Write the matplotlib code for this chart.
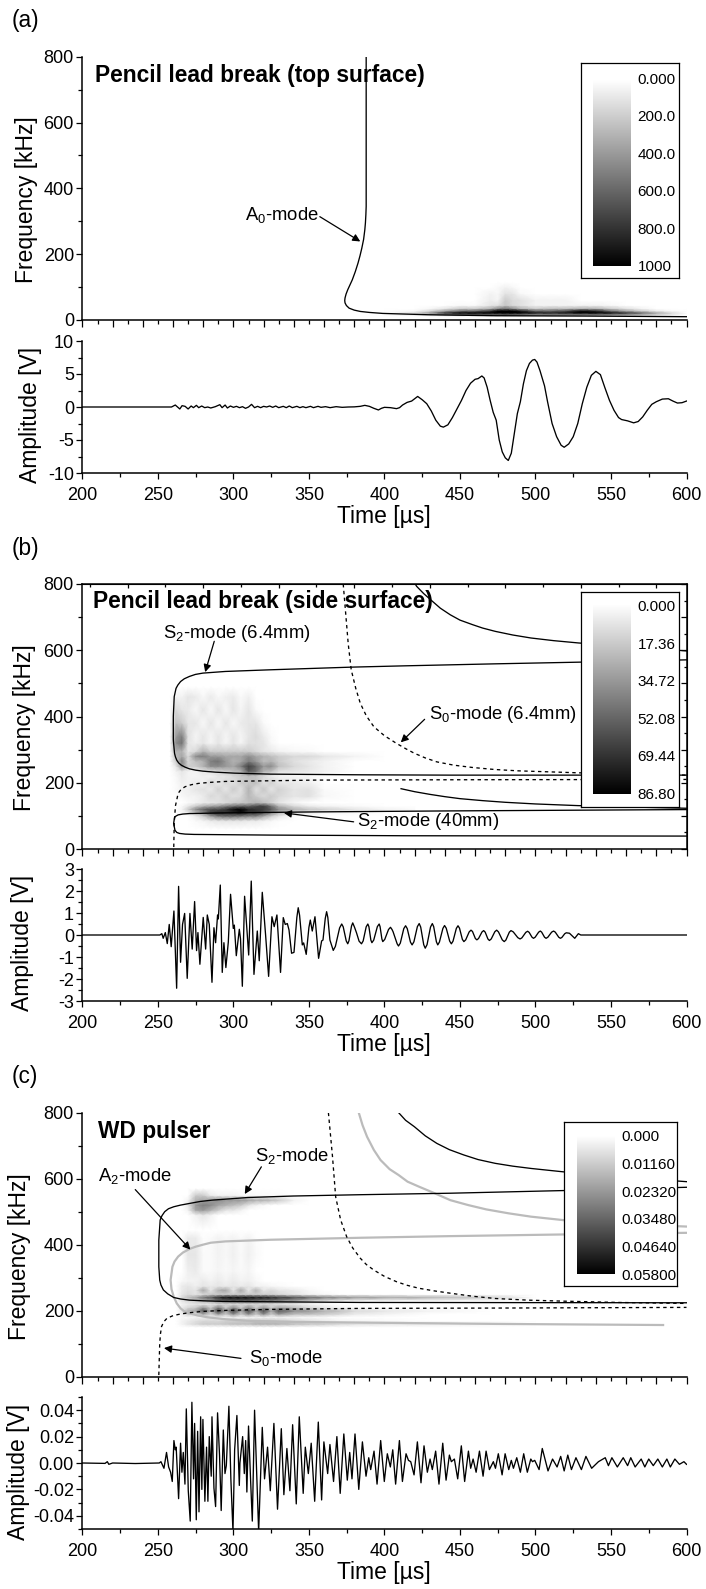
import numpy as np
import matplotlib
matplotlib.use("Agg")
import matplotlib.pyplot as plt
from matplotlib.colors import LinearSegmentedColormap
from matplotlib.ticker import MultipleLocator, FormatStrFormatter, NullFormatter

plt.rcParams.update({
    "font.family": ["Liberation Sans", "DejaVu Sans"],
    "mathtext.fontset": "custom",
    "mathtext.rm": "Liberation Sans",
    "mathtext.it": "Liberation Sans:italic",
    "mathtext.bf": "Liberation Sans:bold",
    "axes.unicode_minus": False,
})

W, H = 706, 1589
X_L, X_R = 82.4, 686.5

# ---------------------------------------------------------------- waveforms
amp_a_t = [200,259,261.5,263,264.5,266,268,270,272,273.5,275.5,277,279,281,283,285,288,291,292.5,294.5,296,298,300,302,304,306,308,310,312,314,316,318,320,322,324,326,328,330,333,335,337,339,342,344,346,348,351,353,356,358,361,364,368,372,376,380,384,387,390,393,396,398,400,404,408,410,412,415,418,422,425,428,431,434,437,439,442,445,448,451,454,457,460,462,464.5,466,468,470,472,474,476,478,480,482,484,486,488,490,492,494,496,498,499.5,501,503,506,508,511,514,517,519,522,525,528,531,534,537,540,543,546,549,552,555,557,561,565,568,571,574,577,580,584,588,591,594,597,600]
amp_a_v = [0,0,0.3,0,-0.3,0.2,0.1,-0.3,0.15,-0.1,0.25,-0.1,0.15,-0.1,0,-0.15,0.05,0.35,-0.1,0.3,-0.15,0.15,-0.05,0.1,-0.1,0.05,-0.2,0,0.4,-0.1,0.1,-0.1,0.1,0,0.15,-0.05,0.15,-0.1,0.1,-0.1,0.15,-0.1,0.1,-0.1,0.05,-0.1,0.1,-0.1,0.1,-0.05,0.05,-0.1,0.05,-0.05,0,0.02,0.1,0.25,0.1,-0.2,-0.45,-0.2,-0.05,-0.1,-0.25,-0.1,0.3,0.7,0.9,1.6,1.1,0.5,-0.6,-2,-2.9,-3.05,-2.7,-1.6,-0.3,1.0,2.5,3.6,4.2,4.3,4.7,4.4,3,1,-0.8,-2,-5,-6.8,-7.7,-8.1,-7,-4,-1,0.8,3.5,5.5,6.6,7.1,7.2,6.8,5.5,3.2,0.8,-2.5,-4.5,-5.8,-6.1,-5.6,-4.5,-2.5,0.5,3,4.8,5.4,4.9,2.9,1.0,-0.5,-1.6,-1.9,-2.1,-2.4,-2.2,-1.5,-0.5,0.4,0.8,1.2,1.25,0.9,0.6,0.65,0.9]

amp_b_t = [200,251.3,252.6,253.5,254.9,256.2,257.5,258.8,260.6,262.4,263.7,265.0,266.3,267.7,269.4,271.2,272.7,274.3,275.6,276.5,277.8,280.0,281.6,282.7,284.0,285.8,287.1,288.2,289.5,290.0,291.3,292.6,293.7,295.0,296.6,298.1,299.9,300.6,301.9,303.9,304.7,305.9,307.4,310.1,311.8,313.6,315.8,317.1,319.1,321.3,323.3,325.5,327.0,328.8,331.2,333.0,334.3,335.7,336.8,338.5,340.1,342.0,342.9,343.8,345.6,346.5,348.2,350.0,350.9,352.2,354.0,356.4,358.4,359.3,360.8,361.7,362.5,363.9,366.1,
 367.5,370.3,371.7,372.7,374.7,375.7,376.5,378.2,379,380.2,381.5,383.2,384.8,385.9,387.9,389,389.7,391,391.7,392.9,395.3,396.5,397.1,398.3,398.9,400.2,402.7,404,405,405.7,408.4,409.3,410.5,412.8,414,415.1,417.2,418.3,419.5,421.8,423,424,426,427,428.2,430.5,431.7,432.6,434.4,435.3,436.4,438.7,439.8,440.9,443.2,444.3,445.4,447.6,448.7,449.7,451.6,452.6,453.8,456.1,457.3,458.3,460.2,461.2,462.3,464.6,465.7,466.7,468.5,469.5,470.7,473.1,474.3,475.5,478,479.3,480.4,482.7,483.8,485.3,488.3,489.8,491,493.6,494.8,495.8,497.7,498.7,499.8,502.1,503.2,504.1,506,507,508.2,510.7,512,513.1,515.4,516.5,517.5,519.4,520.4,522.5,526,528.4,530,600]
amp_b_v = [0,0,0.06,-0.15,0.11,-0.39,0.48,-0.53,1.09,-2.42,2.21,-1.24,0.48,0.98,-1.97,0.98,-0.64,1.52,-0.71,0.11,-1.33,0.80,-0.64,0.91,0.48,-2.15,0.33,-0.35,0.91,0.73,2.27,-1.70,-0.35,-1.48,-0.33,1.85,0.30,0.45,-0.94,0.26,-0.18,-2.33,1.76,-0.91,2.45,-1.79,0.18,-1.17,1.94,0,-1.88,0.83,0.38,0.91,-1.70,0.79,0.48,0.52,0.23,-0.83,-0.79,0.8,1.24,0.9,-0.45,-0.36,-0.88,0.35,0.68,0.18,0.83,-1.06,-0.27,-0.23,0.75,1.06,0.8,-0.23,-0.70,
 -.52,.32,.5,.37,-.27,-.4,-.26,.41,.55,.35,.1,-.28,-.4,-.27,.37,.5,.38,-.23,-.35,-.23,.38,.5,.38,-.18,-.3,-.2,.25,.35,.25,.15,-.4,-.5,-.37,.29,.42,.29,-.32,-.45,-.31,.38,.52,.36,-.44,-.6,-.44,.36,.52,.38,-.31,-.45,-.32,.3,.43,.31,-.28,-.4,-.28,.3,.42,.31,-.2,-.3,-.22,.14,.22,.16,-.16,-.22,-.16,.14,.2,.13,-.18,-.25,-.18,.15,.22,.14,-.22,-.3,-.23,.13,.2,.14,-.12,-.18,-.13,.12,.17,.12,-.1,-.15,-.1,.13,.18,.13,-.1,-.15,-.1,.13,.18,.13,-.1,-.15,-.11,.06,.1,.08,-.15,.06,0,0]

amp_c_t = [200,215,216.5,217.5,220,235,250.9,252.0,254.0,255.7,257.1,258.4,259.5,260.6,261.5,262.1,263.7,265.0,265.9,266.8,267.9,268.8,270.1,271.4,272.5,273.6,274.3,275.4,276.3,277.2,278.3,279.1,279.8,281.1,282.2,283.1,284.0,285.3,285.8,287.1,288.2,289.5,290.8,291.9,293.3,294.4,295.3,297.0,298.3,299.7,300.8,302.3,303.9,304.3,306.1,307.2,308.1,308.9,310.0,311.4,312.5,314.0,316.7,319.1,320.6,322.6,324.4,326.8,329.2,331.7,333.4,335.4,337.4,339.2,341.6,343.6,346.2,347.6,349.6,351.5,353.8,356.2,358.4,359.9,362.4,363.9,366.3,368.5,370.7,373.1,375.4,377,378.5,380.5,383,385.4,387.8,389.6,390.9,393.1,395.1,397.5,399.9,401.9,403.9,405.5,407.4,409.9,411.9,414.3,415.9,417.4,419.6,421.8,424.2,426.2,428.4,430.2,431.7,433.9,436.1,438.6,440.8,443,444.3,446.3,448.5,450.9,453.1,455.6,457.1,458.7,460.7,462.9,465.3,467.3,469.5,472.1,473.5,475.4,477.9,479.9,482.3,484,485.4,487.6,490,492.2,494.6,496.9,498,499.5,502.4,504.5,508.3,511.3,514.3,516.7,519,521.4,523.8,526.8,530.4,533.4,537.2,541.7,546.2,548.3,550.6,554.2,558.1,561,563.1,566,570,572.4,575,578,581,584,587,589.3,592.3,595.3,598.3,600]
amp_c_v = [0,-0.0003,0.001,-0.001,0,-0.0004,0,0.001,-0.004,0.008,-0.003,-0.007,-0.014,0.017,0.010,0.012,-0.027,0.015,-0.007,0.008,-0.016,0.041,-0.021,-0.044,0.046,-0.012,0.030,-0.043,0.024,-0.037,0.035,-0.020,0.033,-0.029,0.012,-0.029,0.020,-0.010,0.035,-0.019,-0.033,0.038,0.006,-0.036,0.025,-0.008,-0.002,0.043,-0.012,-0.052,0.010,0.036,-0.017,0,0.020,-0.008,0.017,-0.022,0.028,-0.014,-0.044,0.040,-0.052,0.027,-0.012,0.012,-0.021,0.030,-0.035,0.026,-0.024,0.011,-0.021,0.029,-0.031,0.035,-0.023,0.012,-0.008,0.015,-0.029,0.031,-0.028,0.016,-0.008,0.014,-0.014,0.020,-0.023,0.022,-0.013,0.008,-0.012,0.022,-0.020,0.016,-0.010,0.004,-0.005,0.009,-0.016,0.017,-0.014,0.007,-0.003,0.010,-0.016,0.017,-0.014,0.007,0.002,0.001,-0.009,0.016,-0.015,0.013,-0.007,0.003,-0.005,0.009,-0.016,0.015,-0.013,0.006,0.001,0.003,-0.012,0.013,-0.014,0.009,-0.004,0.003,-0.007,0.009,-0.010,0.009,-0.005,0.001,-0.004,0.007,-0.009,0.007,-0.005,0.002,-0.004,0.004,-0.007,0.007,-0.007,0.003,0.001,0.002,-0.005,0.011,-0.006,0.003,-0.003,0.005,-0.006,0.006,-0.005,0.004,-0.005,0.005,-0.004,0.001,0.004,-0.002,0.004,-0.003,0.004,-0.002,0.004,-0.003,0.003,-0.003,0.003,-0.002,0.003,-0.003,0.003,-0.003,0.003,-0.001,0.001,-0.001]

# ---------------------------------------------------------------- mode curves
a0_t = [387.9,387.9,387.7,387.4,387,386.2,385,383.8,382.5,380.7,378.7,377,375.7,374.6,373.9,373.7,373.9,374.8,376.6,380,384,390,398.9,428.7,473,533,600]
a0_f = [800,345,320,295,274,245,218,195,173,147,122,105,92,79,67,59,52,44,36,30,26,23,20,16,13,12,10]

b_s2_t = [600,528.5,473.4,413.8,378,324.5,294.7,279.8,274.8,270.9,267.5,265,263.2,262,260.8,260.2,260.2,261,261.6,262.5,263.7,265.5,268,270.9,275,279.8,288,300.7,324.5,384,443.6,600]
b_s2_f = [571,564,559,553,549,541,536,531,527,521,514,505.5,495,485,460,400,329,289,278,268,260,253,247,242,238,235,232,229,226,224,223,223]
b_s2l_t = [600,443.6,354,294.7,270.9,266.5,263.4,261.8,261,260.4,261.3,262.5,264.3,268,273.9,324.5,413.8,600]
b_s2l_f = [119,115,112,109,107,105.5,103,99,95,77,56.5,50,47,45,44,42,40,39]
b_s0_t = [372.7,374.5,376,378,381,384,388,393,400,407.9,414,419.8,427,434.7,446,458.5,473,488.3,528.5,600]
b_s0_f = [800,702,620,541,485,440,402,369,342,319,303,289,275,263,253,246,240,236,230,223]
b_s0l_t = [260.5,260.8,261.6,263.4,265.3,268,272,276.8,284,294.7,354,443.6,600]
b_s0l_f = [6,77,130,168,180,188,194,198,201,204,208,209,210]
b_top_t = [420.4,421.3,426,431.7,437,443.6,450,458.5,465,473.4,485,497,512,528.5,600]
b_top_f = [800,793,771,748,727,707,691,677,667,657,646,637,629,622,598]
b_mid_t = [411,420,430,440,450,465,480,500,528,560,600]
b_mid_f = [182,173,165,158,152,146,141,136,131,127,123]

c_s2_t = [600,518,443.6,384,339.4,309.6,285.8,278,270.9,265,260.5,257,254.5,252.7,251.5,250.6,250.6,251.2,252,253.6,256.5,260.5,265,270.9,280,294.7,384,600]
c_s2_f = [574,564,556,551.5,547.5,543,535,531,525,520,515,509,500,488,475,414,333,293,278,263,251,240,235.5,232,230,228,225,224]
c_s0_t = [250.6,251.2,251.7,252.4,254,256,260,265,271,279.8,295,324.5,384,473.4,600]
c_s0_f = [5,101,130,152,167,177,185,190,194,198,201,204,207,208,210]
c_s0u_t = [362.9,365.6,367.7,371,375,379,384,388,393,400,407.9,415,422.8,433,443.6,458,473.4,495,518,555,600]
c_s0u_f = [800,667,545,475,424,390,359,340,323,304,288,277,268,260,253,244,237,232,229,225,222]
c_top_t = [409.4,414,419.8,427,434.7,443,452.5,462,473.4,485,497.2,518,555,600]
c_top_f = [800,777,757.6,730,707,688,672,658,646.5,638,631,621,606,591]
c_a2_t = [600,518,443.6,384,324.5,294.7,285,279.8,275,270.9,266.5,263.4,261,259.6,258.4,259,260.5,262.5,265,267.5,270.9,276,282.8,295,309.6,340,384,473.4,584.5]
c_a2_f = [436,431,426,421,415,410,406,400,394,387,376,364,349,333,293,265,242,222,207,198,192,186,180,174,169.6,166,164,160,156.6]
c_a2top_t = [383,385.5,388.5,393,397.4,403.4,409.4,415.3,422.8,433.2,443.6,455.5,467.4,482.3,497,518,555,600]
c_a2top_f = [800,762,727,687,656.6,629,611,591,576,556,535,520,507,495,485,474.7,463,455]

# ---------------------------------------------------------------- spectrograms
spec_a_t = [400,420,430,440,450,460,470,475,480,485,490,500,510,520,530,540,550,560,570,580,590,600]
spec_a_f = [5,12,16,22,28,35,45,60,80,100,115]
spec_a_z = [
 [0]*22,
 [0,0,0,0.02,0.03,0.03,0.03,0.03,0.03,0.03,0.03,0.02,0.02,0.02,0.02,0.02,0.02,0.02,0.02,0.01,0,0],
 [0,.08,.15,.35,.5,.55,.55,.55,.6,.55,.5,.4,.45,.45,.45,.45,.4,.35,.25,.15,.08,0],
 [0,.15,.4,.8,1,1,1,1,1,1,1,.9,.85,.9,1,1,.95,.8,.6,.35,.15,0],
 [0,.03,.15,.35,.55,.6,.8,1,1,1,.9,.6,.6,.7,.95,.85,.55,.35,.2,.08,.02,0],
 [0,0,.03,.1,.2,.2,.3,.45,.55,.45,.3,.2,.25,.25,.3,.3,.2,.12,.05,0,0,0],
 [0,0,0,0,.02,.02,.1,.12,.22,.15,.12,.05,.05,.05,.05,.05,.03,0,0,0,0,0],
 [0,0,0,0,0,0,.07,.04,.2,.14,.12,.05,.05,.05,0,0,0,0,0,0,0,0],
 [0,0,0,0,0,0,.05,.03,.11,.1,.03,0,0,0,0,0,0,0,0,0,0,0],
 [0,0,0,0,0,0,0,.02,.05,.03,0,0,0,0,0,0,0,0,0,0,0,0],
 [0]*22,
]

spec_b_t = [258,262,266,270,275,280,285,290,295,300,305,310,315,320,325,330,340,350,360,380,400,420]
spec_b_f = [60,85,100,110,120,130,140,160,180,200,220,235,250,265,280,295,320,340,380,420,460,490]
spec_b_z = [
 [0]*22,
 [0,0,0,0,.02,.04,.08,.1,.1,.1,.1,.08,.08,.05,.03,.01,0,0,0,0,0,0],
 [0,0,0,0,.08,.2,.4,.55,.6,.6,.55,.5,.5,.35,.2,.1,.02,0,0,0,0,0],
 [0,0,.02,.08,.25,.45,.75,.85,.8,.85,.95,.8,.8,.7,.5,.3,.15,.08,.04,.02,0,0],
 [0,0,.05,.2,.45,.6,.7,.7,.8,.95,1,.85,.8,.75,.65,.45,.3,.22,.18,.1,.05,.02],
 [0,0,.03,.1,.2,.3,.35,.4,.5,.55,.6,.6,.7,.75,.55,.3,.15,.08,.05,.02,0,0],
 [0,0,0,.02,.05,.08,.1,.12,.15,.2,.22,.25,.3,.25,.18,.1,.04,0,0,0,0,0],
 [0,0,.03,.05,.05,.08,.15,.12,.18,.12,.15,.28,.2,.15,.2,.15,.1,.12,.03,0,0,0],
 [0,.02,.05,.06,.1,.12,.08,.18,.1,.2,.12,.3,.12,.22,.1,.18,.1,.12,.02,0,0,0],
 [0,.02,.06,.05,.08,.05,.15,.08,.15,.12,.2,.22,.25,.12,.18,.1,.08,.06,0,0,0,0],
 [0,.03,.08,.05,.04,.06,.05,.1,.1,.15,.2,.25,.22,.15,.08,.05,.04,.03,0,0,0,0],
 [0,.05,.1,.05,.05,.1,.12,.15,.2,.25,.3,.65,.55,.3,.25,.12,.1,.08,.05,0,0,0],
 [0,.1,.4,.2,.2,.3,.45,.45,.4,.35,.5,.75,.6,.4,.45,.25,.15,.1,.05,0,0,0],
 [0,.2,.5,.15,.25,.3,.5,.55,.4,.3,.35,.5,.4,.25,.3,.2,.12,.08,.05,0,0,0],
 [0,.25,.35,.15,.45,.5,.4,.4,.35,.35,.35,.45,.35,.3,.25,.2,.15,.15,.1,.05,0,0],
 [0,.3,.3,.1,.15,.3,.2,.2,.2,.2,.2,.2,.15,.1,.08,.05,.03,.02,0,0,0,0],
 [0,.45,.55,.1,.06,.1,.04,.1,.04,.1,.04,.12,.12,.1,.03,0,0,0,0,0,0,0],
 [0,.4,.5,.12,.04,.1,.04,.1,.04,.1,.04,.1,.14,.08,.02,0,0,0,0,0,0,0],
 [0,.25,.2,.1,.1,.03,.1,.03,.1,.03,.08,.1,.1,.02,0,0,0,0,0,0,0,0],
 [0,.15,.1,.08,.03,.1,.03,.1,.03,.1,.04,.1,.02,0,0,0,0,0,0,0,0,0],
 [0,.05,.05,.1,.08,.03,.08,.03,.06,.08,.02,.06,0,0,0,0,0,0,0,0,0,0],
 [0]*22,
]

spec_c_t = [262,266,270,275,280,285,290,295,300,305,310,315,320,325,330,340,350,360,370,380,400,430,470,500]
spec_c_f = [150,160,170,180,190,200,210,220,230,240,250,262,275,290,320,370,420,445,490,505,520,535,550,570]
spec_c_z = [
 [0]*24,
 [0,.05,.1,.15,.2,.2,.2,.22,.25,.25,.25,.3,.3,.3,.3,.25,.22,.2,.15,.12,.1,.08,.05,0],
 [0,.05,.08,.12,.15,.15,.15,.18,.18,.2,.2,.22,.22,.22,.2,.15,.12,.08,.05,.04,.02,0,0,0],
 [0,.02,.02,.05,.05,.08,.05,.05,.08,.05,.05,.05,.05,.05,.05,.04,.02,.02,0,0,0,0,0,0],
 [0,.05,.2,.1,.35,.15,.4,.2,.45,.2,.45,.2,.45,.2,.4,.25,.25,.2,.15,.08,.05,0,0,0],
 [0,.1,.3,.35,.65,.3,.75,.35,.75,.35,.7,.35,.7,.35,.65,.45,.4,.3,.25,.15,.1,.05,0,0],
 [0,.08,.15,.2,.4,.2,.5,.2,.45,.2,.45,.2,.4,.2,.35,.25,.15,.1,.05,.02,0,0,0,0],
 [0,.05,.08,.1,.1,.1,.15,.15,.15,.15,.15,.15,.15,.15,.12,.1,.05,.02,0,0,0,0,0,0],
 [0,.1,.15,.2,.3,.35,.5,.55,.6,.6,.6,.55,.5,.5,.45,.35,.2,.12,.05,.02,0,0,0,0],
 [0,.15,.25,.35,.55,.65,.85,.95,.95,.95,.95,.9,.9,.85,.8,.7,.6,.5,.45,.4,.35,.3,.18,0],
 [0,.1,.15,.1,.15,.2,.2,.2,.2,.2,.2,.2,.18,.18,.15,.1,.05,.03,0,0,0,0,0,0],
 [0,.08,.12,.1,.35,.1,.3,.35,.1,.35,.1,.3,.1,.15,.1,.08,.03,0,0,0,0,0,0,0],
 [0,.08,.1,.06,.1,.08,.1,.08,.1,.08,.1,.05,.05,.03,.02,0,0,0,0,0,0,0,0,0],
 [0,.03,.05,.05,.08,.05,.08,.05,.08,.05,.06,.03,0,0,0,0,0,0,0,0,0,0,0,0],
 [0,0,.06,.08,.02,.02,.04,.02,.04,.02,.04,0,0,0,0,0,0,0,0,0,0,0,0,0],
 [0,0,.1,.1,.02,.02,.05,.03,.06,.02,.06,.02,0,0,0,0,0,0,0,0,0,0,0,0],
 [0,0,.08,.08,.01,.02,.05,.03,.05,.02,.05,.01,0,0,0,0,0,0,0,0,0,0,0,0],
 [0]*24,
 [0,0,0,.05,.1,.05,0,0,0,0,0,0,0,0,0,0,0,0,0,0,0,0,0,0],
 [0,0,.05,.35,.4,.3,.2,.1,.1,.05,0,0,0,0,0,0,0,0,0,0,0,0,0,0],
 [0,0,.1,.4,.5,.45,.35,.3,.25,.2,.1,.05,.02,0,0,0,0,0,0,0,0,0,0,0],
 [0,0,.05,.3,.35,.4,.45,.4,.4,.4,.35,.3,.3,.25,.2,.05,0,0,0,0,0,0,0,0],
 [0,0,0,.2,.2,.08,.05,.05,.05,.03,.03,.02,.02,.02,.02,0,0,0,0,0,0,0,0,0],
 [0]*24,
]

# ---------------------------------------------------------------- tick labels of scale bars
cb_a_labels = ["0.000", "200.0", "400.0", "600.0", "800.0", "1000"]
cb_b_labels = ["0.000", "17.36", "34.72", "52.08", "69.44", "86.80"]
cb_c_labels = ["0.000", "0.01160", "0.02320", "0.03480", "0.04640", "0.05800"]

GREY = LinearSegmentedColormap.from_list("g", ["#ffffff", "#000000"])
TICK = 13
LABEL = 16.5
ANN = 13.3
LW = 0.95
DARK = "#000000"

fig = plt.figure(figsize=(W / 100, H / 100), dpi=100, facecolor="white")


def axes_px(x0, y_top, x1, y_bot, **kw):
    return fig.add_axes([x0 / W, 1 - y_bot / H, (x1 - x0) / W, (y_bot - y_top) / H], **kw)


def style(ax):
    for s in ("top", "right"):
        ax.spines[s].set_visible(False)
    for s in ("left", "bottom"):
        ax.spines[s].set_linewidth(1.1)
    ax.set_xlim(200, 600)
    ax.tick_params(axis="both", which="major", length=4.6, width=0.9, labelsize=TICK, pad=1.5)
    ax.tick_params(axis="both", which="minor", length=2.6, width=0.9)
    ax.patch.set_alpha(0)


def ylab(ax, text, x, y):
    ax.set_ylabel(text, fontsize=LABEL, ha="center", va="center")
    ax.yaxis.set_label_coords(x / W, 1 - y / H, transform=fig.transFigure)


def xlab(ax, text, x, y):
    ax.set_xlabel(text, fontsize=LABEL, ha="center", va="center")
    ax.xaxis.set_label_coords(x / W, 1 - y / H, transform=fig.transFigure)


def spectrogram(y_top, y_bot, t, f, z):
    ax = axes_px(X_L, y_top, X_R, y_bot)
    style(ax)
    ax.pcolormesh(t, f, np.array(z, float), cmap=GREY, vmin=0, vmax=1, shading="gouraud", zorder=1, rasterized=True)
    ax.set_ylim(0, 800)
    ax.yaxis.set_major_locator(MultipleLocator(200))
    ax.yaxis.set_minor_locator(MultipleLocator(100))
    ax.xaxis.set_major_locator(MultipleLocator(20))
    ax.xaxis.set_minor_locator(MultipleLocator(10))
    ax.tick_params(axis="x", which="major", labelbottom=False, length=5)
    return ax


def waveform(y_top, y_bot, t, v, ylim, major, minor, fmt):
    ax = axes_px(X_L, y_top, X_R, y_bot)
    style(ax)
    ax.plot(t, v, color=DARK, lw=LW, solid_joinstyle="round")
    ax.set_ylim(*ylim)
    ax.yaxis.set_major_locator(MultipleLocator(major))
    ax.yaxis.set_minor_locator(MultipleLocator(minor))
    ax.yaxis.set_major_formatter(FormatStrFormatter(fmt))
    ax.xaxis.set_major_locator(MultipleLocator(50))
    ax.xaxis.set_minor_locator(MultipleLocator(25))
    ax.tick_params(axis="x", which="major", pad=5.6)
    return ax


def scale_box(box, grad, labels, lab_span, lab_x):
    bx = axes_px(box[0], box[1], box[2], box[3], zorder=5, facecolor="white")
    bx.set_xticks([]); bx.set_yticks([])
    for s in bx.spines.values():
        s.set_linewidth(0.9)
    gx = axes_px(grad[0], grad[1], grad[2], grad[3], zorder=6)
    gx.imshow(np.linspace(0, 1, 256)[:, None], cmap=GREY, vmin=0, vmax=1, aspect="auto",
              extent=(0, 1, 1, 0), interpolation="bilinear")
    gx.set_xticks([]); gx.set_yticks([])
    for s in gx.spines.values():
        s.set_visible(False)
    n = len(labels) - 1
    for i, lab in enumerate(labels):
        y = lab_span[0] + (lab_span[1] - lab_span[0]) * i / n
        bx.text((lab_x - box[0]) / (box[2] - box[0]), (box[3] - y) / (box[3] - box[1]), lab,
                transform=bx.transAxes, fontsize=11, ha="left", va="center")


def note(ax, text, tx, fx, t0, f0, t1, f1):
    ax.text(tx, fx, text, fontsize=ANN, ha="left", va="center", zorder=4)
    ax.annotate("", xy=(t1, f1), xytext=(t0, f0),
                arrowprops=dict(arrowstyle="-|>", color="k", lw=0.9, mutation_scale=11, shrinkA=0, shrinkB=0),
                zorder=4)


# ------------------------------------------------------------------ panel a
fig.text(11.5 / W, 1 - 21 / H, "(a)", fontsize=16.3, ha="left", va="center")
ax = spectrogram(56.7, 320, spec_a_t, spec_a_f, spec_a_z)
ax.plot(a0_t, a0_f, color=DARK, lw=LW, zorder=3, clip_on=True)
ax.text(208.3, 744, "Pencil lead break (top surface)", fontsize=16.4, fontweight="bold", va="center", zorder=4)
note(ax, r"$\mathregular{A_0}$-mode", 307.5, 319, 357.2, 314, 384, 238.6)
ylab(ax, "Frequency [kHz]", 27, 200)
scale_box((580.5, 63, 679, 278), (593, 80, 630.6, 266), cb_a_labels, (80, 267), 637.4)

ax = waveform(341, 473, amp_a_t, amp_a_v, (-10, 10), 5, 2.5, "%d")
ylab(ax, "Amplitude [V]", 31, 415)
xlab(ax, "Time [µs]", 384, 517)

# ------------------------------------------------------------------ panel b
fig.text(11.5 / W, 1 - 549 / H, "(b)", fontsize=16.3, ha="left", va="center")
ax = spectrogram(584, 849, spec_b_t, spec_b_f, spec_b_z)
ax.spines["top"].set_visible(True)
ax.spines["right"].set_visible(True)
for s in ("top", "right"):
    ax.spines[s].set_linewidth(1.1)
for tt, ff in [(b_s2_t, b_s2_f), (b_s2l_t, b_s2l_f), (b_top_t, b_top_f), (b_mid_t, b_mid_f)]:
    ax.plot(tt, ff, color=DARK, lw=LW, zorder=3)
for tt, ff in [(b_s0_t, b_s0_f), (b_s0l_t, b_s0l_f)]:
    ax.plot(tt, ff, color=DARK, lw=LW, ls=(0, (2.6, 2.6)), zorder=3)
ax.text(206.8, 745.7, "Pencil lead break (side surface)", fontsize=16.4, fontweight="bold", va="center", zorder=4)
note(ax, r"$\mathregular{S_2}$-mode (6.4mm)", 253.6, 652, 287.3, 627, 281.3, 534)
note(ax, r"$\mathregular{S_0}$-mode (6.4mm)", 429.6, 405, 426.6, 391.5, 410.8, 322)
note(ax, r"$\mathregular{S_2}$-mode (40mm)", 382, 84, 379.6, 82, 333.4, 109)
ylab(ax, "Frequency [kHz]", 24, 728)
sec_r = ax.secondary_yaxis("right")
sec_r.yaxis.set_major_locator(MultipleLocator(100))
sec_r.yaxis.set_minor_locator(MultipleLocator(50))
sec_r.yaxis.set_major_formatter(NullFormatter())
sec_r.tick_params(axis="y", which="major", direction="in", length=4, width=0.9)
sec_r.tick_params(axis="y", which="minor", direction="in", length=2.2, width=0.9)
sec_t = ax.secondary_xaxis("top")
sec_t.set_xticks([230, 280, 330, 380, 430, 480, 530, 580])
sec_t.set_xticks([205, 255, 305, 355, 405, 455, 505, 555], minor=True)
sec_t.xaxis.set_major_formatter(NullFormatter())
sec_t.tick_params(axis="x", which="major", direction="in", length=3, width=0.9)
sec_t.tick_params(axis="x", which="minor", direction="in", length=2, width=0.9)
scale_box((580.7, 592, 678.7, 806.7), (593, 605, 631, 794), cb_b_labels, (607, 795), 637.4)

ax = waveform(869, 1001, amp_b_t, amp_b_v, (-3, 3), 1, 0.5, "%d")
ylab(ax, "Amplitude [V]", 22.5, 943)
xlab(ax, "Time [µs]", 384, 1044)

# ------------------------------------------------------------------ panel c
fig.text(11.5 / W, 1 - 1077 / H, "(c)", fontsize=16.3, ha="left", va="center")
ax = spectrogram(1112.7, 1376.7, spec_c_t, spec_c_f, spec_c_z)
for tt, ff in [(c_a2_t, c_a2_f), (c_a2top_t, c_a2top_f)]:
    ax.plot(tt, ff, color="#bbbbbb", lw=1.6, zorder=2)
for tt, ff in [(c_s2_t, c_s2_f), (c_top_t, c_top_f)]:
    ax.plot(tt, ff, color=DARK, lw=LW, zorder=3)
for tt, ff in [(c_s0_t, c_s0_f), (c_s0u_t, c_s0u_f)]:
    ax.plot(tt, ff, color=DARK, lw=LW, ls=(0, (2.6, 2.6)), zorder=3)
ax.text(210.4, 744, "WD pulser", fontsize=16.4, fontweight="bold", va="center", zorder=4)
note(ax, r"$\mathregular{S_2}$-mode", 314, 669, 318.5, 636, 307.5, 553.5)
note(ax, r"$\mathregular{A_2}$-mode", 210.4, 608, 235, 567, 271.5, 385)
note(ax, r"$\mathregular{S_0}$-mode", 310.5, 55.5, 305, 55.5, 254, 86.7)
ylab(ax, "Frequency [kHz]", 20, 1257)
scale_box((564, 1122, 676.7, 1286), (577, 1136, 615, 1274), cb_c_labels, (1137, 1276), 621)

ax = waveform(1397, 1529, amp_c_t, amp_c_v, (-0.05, 0.05), 0.02, 0.01, "%.2f")
ax.set_yticks([-0.04, -0.02, 0, 0.02, 0.04])
ylab(ax, "Amplitude [V]", 19, 1472)
xlab(ax, "Time [µs]", 384, 1573)

fig.savefig("out.png", dpi=100, facecolor="white")
